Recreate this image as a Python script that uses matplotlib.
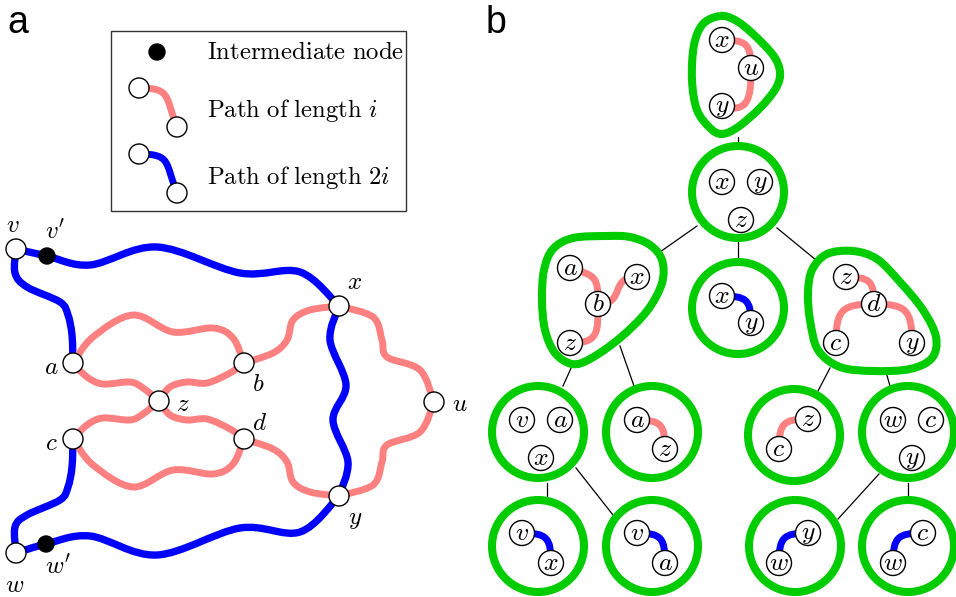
import numpy as np
import matplotlib.pyplot as plt
from matplotlib.path import Path
from matplotlib.patches import PathPatch, Circle, Rectangle

plt.rcParams['mathtext.fontset'] = 'cm'

PINK = '#ff8080'
BLUE = '#0000ff'
GREEN = '#00cc00'

# ---- panel a (pixel coordinates, y down) ----
nodes_a = {'v': (16, 249), 'a': (73, 363), 'b': (244, 363), 'z': (159, 401),
           'c': (73, 439), 'd': (244, 439), 'x': (339, 306), 'y': (339, 496),
           'u': (434, 402), 'w': (16, 553)}
inter_a = [(47, 256), (46, 544)]
labels_a = {'v': (13, 225), "v'": (55, 232), 'x': (355, 282), 'a': (51, 367),
            'b': (258, 384), 'z': (183, 404), 'u': (460, 404), 'c': (51, 443),
            'd': (260, 423), 'y': (355, 519), 'w': (15, 585), "w'": (58, 567)}

blue_paths = [
    [(16, 249), (47, 256), (90, 265), (157, 247), (240, 273), (300, 272), (339, 306)],
    [(16, 553), (46, 544), (90, 536), (157, 555), (240, 528), (300, 532), (339, 496)],
    [(16, 249), (15, 273), (27, 287), (60, 302), (68, 315), (72, 335), (73, 363)],
    [(16, 553), (15, 527), (27, 515), (60, 500), (68, 487), (72, 467), (73, 439)],
    [(339, 306), (330, 340), (346, 385), (333, 420), (348, 462), (339, 496)],
]
pink_paths = [
    [(73, 363), (93, 337), (133, 315), (173, 332), (213, 328), (233, 338), (244, 363)],
    [(73, 439), (93, 465), (133, 487), (173, 470), (213, 474), (233, 464), (244, 439)],
    [(73, 363), (87, 377), (103, 384), (130, 382), (143, 388), (159, 401)],
    [(159, 401), (170, 387), (187, 382), (207, 383), (230, 373), (244, 363)],
    [(73, 439), (87, 425), (103, 418), (130, 420), (143, 414), (159, 401)],
    [(159, 401), (170, 415), (187, 420), (207, 419), (230, 429), (244, 439)],
    [(244, 363), (273, 353), (287, 340), (293, 320), (310, 310), (339, 306)],
    [(244, 439), (273, 449), (287, 462), (293, 482), (310, 492), (339, 496)],
    [(339, 306), (373, 317), (382, 340), (387, 357), (420, 370), (434, 402)],
    [(434, 402), (420, 432), (387, 445), (382, 462), (373, 485), (339, 496)],
]

legend_texts = ['Intermediate\\ node', 'Path\\ of\\ length\\ }i', 'Path\\ of\\ length\\ }2i']

# ---- panel b ----
blob_outlines = [
    [(720, 16), (703, 24), (694, 45), (692, 80), (697, 110), (710, 128), (722, 134),
     (738, 127), (760, 108), (776, 88), (780, 72), (773, 55), (752, 33), (735, 20)],
    [(607, 236), (573, 238), (553, 249), (544, 270), (542, 300), (545, 330), (555, 353),
     (572, 364), (590, 359), (620, 338), (647, 311), (662, 283), (662, 260), (650, 245),
     (630, 237)],
    [(853, 251), (827, 254), (812, 270), (808, 293), (810, 320), (818, 350), (840, 367),
     (873, 371), (910, 369), (932, 358), (936, 337), (923, 310), (900, 282), (877, 259)],
]
bag_circles = [(738, 192), (738, 308), (538, 432), (652, 432), (794, 435), (908, 432),
               (538, 546), (652, 546), (795, 546), (908, 546)]

bag_nodes = [
    ('x', 722, 40), ('u', 751, 68), ('y', 722, 106),
    ('x', 722, 182), ('y', 760, 182), ('z', 741, 220),
    ('x', 722, 296), ('y', 751, 323),
    ('a', 570, 268), ('x', 637, 277), ('b', 598, 304), ('z', 570, 343),
    ('z', 846, 277), ('d', 874, 304), ('c', 836, 343), ('y', 912, 343),
    ('v', 522, 420), ('a', 560, 420), ('x', 541, 458),
    ('a', 637, 420), ('z', 665, 449),
    ('z', 808, 419), ('c', 779, 449),
    ('w', 893, 420), ('c', 931, 420), ('y', 912, 458),
    ('v', 522, 533), ('x', 551, 563),
    ('v', 637, 533), ('a', 665, 563),
    ('y', 808, 533), ('w', 779, 563),
    ('c', 923, 533), ('w', 893, 563),
]
# (start, end, colour, leaving direction, arriving direction)
bag_links = [
    ((722, 40), (751, 68), PINK, (1, 0), (0, 1)),
    ((751, 68), (722, 106), PINK, (0, 1), (-1, -0.3)),
    ((722, 296), (751, 323), BLUE, (1, 0), (0, 1)),
    ((570, 268), (598, 304), PINK, (1, 0.3), (0, 1)),
    ((598, 304), (637, 277), PINK, (1, 0), (1, 0)),
    ((598, 304), (570, 343), PINK, (0, 1), (-1, 0)),
    ((846, 277), (874, 304), PINK, (1, 0), (0, 1)),
    ((874, 304), (836, 343), PINK, (-1, 0), (0, 1)),
    ((874, 304), (912, 343), PINK, (1, 0), (0, 1)),
    ((637, 420), (665, 449), PINK, (1, 0), (0, 1)),
    ((779, 449), (808, 419), PINK, (0, -1), (1, 0)),
    ((522, 533), (551, 563), BLUE, (1, 0), (0, 1)),
    ((637, 533), (665, 563), BLUE, (1, 0), (0, 1)),
    ((779, 563), (808, 533), BLUE, (0, -1), (1, 0)),
    ((893, 563), (923, 533), BLUE, (0, -1), (1, 0)),
    ((139, 88), (177, 127), PINK, (1, 0), (0.4, 1)),
    ((139, 154), (177, 193), BLUE, (1, 0), (0.4, 1)),
]
tree_edges = [
    ((738, 137), (738, 146)), ((697, 226), (660, 252)), ((738, 238), (738, 262)),
    ((777, 228), (816, 260)), ((572, 366), (563, 386)), ((620, 346), (634, 386)),
    ((830, 368), (818, 391)), ((886, 372), (890, 386)), ((547, 483), (547, 500)),
    ((576, 468), (613, 515)), ((879, 474), (838, 519)), ((908, 483), (908, 500)),
]


def spline_path(pts, closed=False):
    p = np.array(pts, dtype=float)
    n = len(p)
    if closed:
        ext = np.vstack([p[-1], p, p[0], p[1]])
    else:
        ext = np.vstack([p[0], p, p[-1]])
    verts = [p[0]]
    codes = [Path.MOVETO]
    nseg = n if closed else n - 1
    for i in range(nseg):
        p0, p1, p2, p3 = ext[i], ext[i + 1], ext[i + 2], ext[i + 3]
        verts += [p1 + (p2 - p0) / 6, p2 - (p3 - p1) / 6, p2]
        codes += [Path.CURVE4] * 3
    return Path(verts, codes)


def bend_path(p0, p1, d0, d1, k=0.6):
    p0 = np.array(p0, float)
    p1 = np.array(p1, float)
    d0 = np.array(d0, float) / np.hypot(*d0)
    d1 = np.array(d1, float) / np.hypot(*d1)
    L = np.hypot(*(p1 - p0)) * k
    return Path([p0, p0 + L * d0, p1 - L * d1, p1],
                [Path.MOVETO, Path.CURVE4, Path.CURVE4, Path.CURVE4])


fig = plt.figure(figsize=(9.56, 5.97), dpi=100)
ax = fig.add_axes([0, 0, 1, 1])
ax.set_xlim(0, 956)
ax.set_ylim(597, 0)
ax.axis('off')

for pts in blue_paths:
    ax.add_patch(PathPatch(spline_path(pts), fc='none', ec=BLUE, lw=5.3, capstyle='round', zorder=2))
for pts in pink_paths:
    ax.add_patch(PathPatch(spline_path(pts), fc='none', ec=PINK, lw=5.0, capstyle='round', zorder=2))

for name, (x, y) in nodes_a.items():
    ax.add_patch(Circle((x, y), 10, fc='white', ec='black', lw=1, zorder=4))
for x, y in inter_a:
    ax.add_patch(Circle((x, y), 8, fc='black', ec='black', lw=1, zorder=4))
for name, (x, y) in labels_a.items():
    ax.text(x, y, '$%s$' % name, fontsize=18, ha='center', va='center')

# legend box
ax.add_patch(Rectangle((111, 31), 295, 180, fc='none', ec='#333333', lw=1, zorder=1))
ax.add_patch(Circle((157, 52), 8, fc='black', ec='black', zorder=4))
for p in [(139, 88), (177, 127), (139, 154), (177, 193)]:
    ax.add_patch(Circle(p, 10, fc='white', ec='black', lw=1, zorder=4))
ax.text(207, 59, r'$\mathrm{%s}$' % legend_texts[0], fontsize=17.8, ha='left', va='baseline')
ax.text(207, 117, r'$\mathrm{%s$' % legend_texts[1], fontsize=17.8, ha='left', va='baseline')
ax.text(207, 184, r'$\mathrm{%s$' % legend_texts[2], fontsize=17.8, ha='left', va='baseline')

ax.text(7, 33, 'a', fontsize=27, family='Liberation Sans', ha='left', va='baseline')
ax.text(486, 33, 'b', fontsize=27, family='Liberation Sans', ha='left', va='baseline')

# panel b
for (p, q) in tree_edges:
    ax.plot([p[0], q[0]], [p[1], q[1]], color='black', lw=0.9, zorder=1)
for pts in blob_outlines:
    ax.add_patch(PathPatch(spline_path(pts, closed=True), fc='none', ec=GREEN, lw=5.8, zorder=3))
for c in bag_circles:
    ax.add_patch(Circle(c, 46, fc='none', ec=GREEN, lw=5.8, zorder=3))
for p0, p1, col, d0, d1 in bag_links:
    ax.add_patch(PathPatch(bend_path(p0, p1, d0, d1), fc='none', ec=col, lw=5.0, zorder=2))
for name, x, y in bag_nodes:
    ax.add_patch(Circle((x, y), 12.5, fc='white', ec='black', lw=1, zorder=4))
    ax.text(x, y, '$%s$' % name, fontsize=18.5, ha='center', va='center', zorder=5)

fig.savefig('out.png', dpi=100)
